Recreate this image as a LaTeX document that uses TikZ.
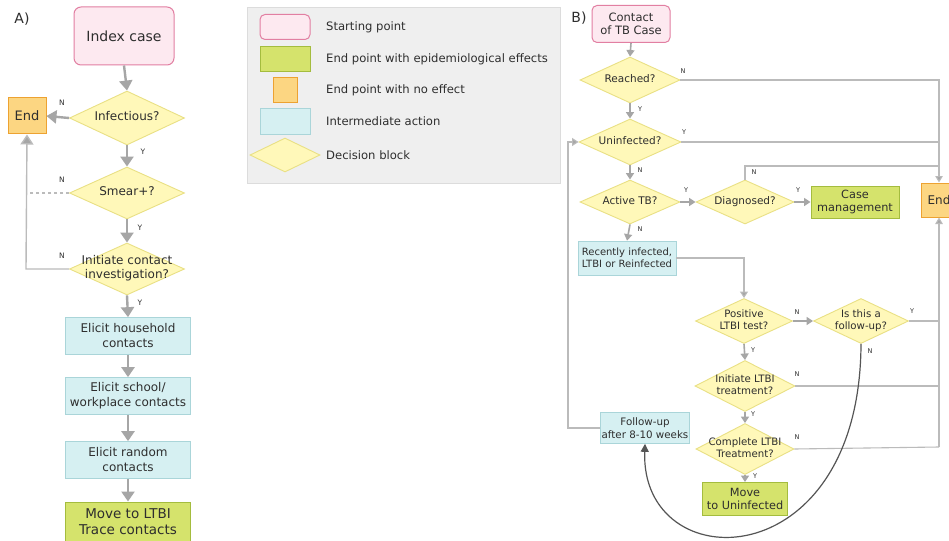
\documentclass[tikz,border=0pt]{standalone}
\usepackage{fontspec}
\setmainfont{DejaVu Sans}
\usetikzlibrary{shapes.geometric,arrows.meta,calc}
\definecolor{txt}{HTML}{2E2E2E}
\definecolor{pinkf}{HTML}{FDE9F0}
\definecolor{pinkb}{HTML}{E27FA2}
\definecolor{greenf}{HTML}{D5E36C}
\definecolor{greenb}{HTML}{A4BC3E}
\definecolor{oraf}{HTML}{FCD682}
\definecolor{orab}{HTML}{EDA231}
\definecolor{bluef}{HTML}{D6F0F2}
\definecolor{blueb}{HTML}{AAD5D9}
\definecolor{decf}{HTML}{FFF8B9}
\definecolor{decb}{HTML}{E9E084}
\definecolor{arrc}{HTML}{A6A6A6}
\definecolor{lnc}{HTML}{BBBBBB}
\definecolor{curvec}{HTML}{555555}
\definecolor{legf}{HTML}{EFEFEF}
\definecolor{legb}{HTML}{DCDCDC}
\newcommand{\dtext}[1]{\makebox[0pt]{\begin{tabular}{@{}c@{}}#1\end{tabular}}}
\newcommand{\fs}[2]{\fontsize{#1}{#2}\selectfont}
\tikzset{
  base/.style={text=txt, align=center, inner sep=1pt},
  startbox/.style={base, rectangle, rounded corners=7pt, draw=pinkb, fill=pinkf, line width=1pt},
  greenbox/.style={base, rectangle, draw=greenb, fill=greenf, line width=1pt},
  endbox/.style={base, rectangle, draw=orab, fill=oraf, line width=1pt},
  actbox/.style={base, rectangle, draw=blueb, fill=bluef, line width=0.7pt},
  dec/.style={base, diamond, draw=decb, fill=decf, line width=0.9pt, inner sep=0pt},
  arrA/.style={draw=arrc, line width=2.4pt, -{Triangle[length=10pt,width=13pt]}},
  lnA/.style={draw=lnc, line width=1.4pt},
  arrB/.style={draw=arrc, line width=1.6pt, -{Triangle[length=6.5pt,width=8pt]}},
  lnB/.style={draw=lnc, line width=1.1pt},
  lnBarr/.style={draw=lnc, line width=1.1pt, -{Triangle[length=6.5pt,width=7.5pt,fill=arrc]}},
  labA/.style={text=txt, font=\fs{7.5}{8}, inner sep=0pt},
  labB/.style={text=txt, font=\fs{6.5}{7}, inner sep=0pt},
  legtext/.style={text=txt, font=\fs{11.6}{13}, anchor=west, inner sep=0pt}
}
\begin{document}
\begin{tikzpicture}[x=1pt,y=-1pt]
\useasboundingbox (0,0) rectangle (949,540);
\fill[white] (0,0) rectangle (949,540);

% ---------------- Panel A ----------------
\node[text=txt, font=\fs{14}{16}] (labelA) at (22,19) {A)};
\node[startbox, minimum width=100pt, minimum height=58pt, font=\fs{14}{16}] (idx) at (124,36) {Index case};
\node[dec, minimum width=115pt, minimum height=54pt, font=\fs{12}{14}] (inf) at (127,118) {\dtext{Infectious?}};
\node[endbox, minimum width=38pt, minimum height=36pt, font=\fs{13}{15}] (endA) at (27,116) {End};
\node[dec, minimum width=115pt, minimum height=52pt, font=\fs{12}{14}] (smear) at (127,193) {\dtext{Smear+?}};
\node[dec, minimum width=115pt, minimum height=52pt, font=\fs{12}{14}] (init) at (127,269) {\dtext{Initiate contact\\investigation?}};
\node[actbox, minimum width=125pt, minimum height=37pt, font=\fs{12}{15}] (house) at (128,336) {Elicit household\\contacts};
\node[actbox, minimum width=125pt, minimum height=37pt, font=\fs{12}{15}] (school) at (128,396) {Elicit school/\\workplace contacts};
\node[actbox, minimum width=125pt, minimum height=37pt, font=\fs{12}{15}] (random) at (128,460) {Elicit random\\contacts};
\node[greenbox, minimum width=125pt, minimum height=40pt, font=\fs{13.5}{16}] (ltbi) at (128,522) {Move to LTBI\\Trace contacts};

\coordinate (cA) at (26,269);
\coordinate (dA) at (26,193);
\draw[arrA] (idx.south) -- (inf.north);
\draw[arrA] (inf.west) -- (endA.east);
\draw[arrA] (inf.south) -- (smear.north);
\draw[arrA] (smear.south) -- (init.north);
\draw[lnA, dashed] (smear.west) -- (dA);
\draw[lnA, -{Triangle[length=10pt,width=13pt,fill=arrc]}] (init.west) -- (cA) -- (endA.south);
\draw[arrA] (init.south) -- (house.north);
\draw[arrA] (house.south) -- (school.north);
\draw[arrA] (school.south) -- (random.north);
\draw[arrA] (random.south) -- (ltbi.north);
\node[labA] (nA1) at (62,103) {N};
\node[labA] (yA1) at (143,152) {Y};
\node[labA] (nA2) at (62,180) {N};
\node[labA] (yA2) at (140,228) {Y};
\node[labA] (nA3) at (62,256) {N};
\node[labA] (yA3) at (140,303) {Y};

% ---------------- Legend ----------------
\node[draw=legb, fill=legf, line width=0.8pt, minimum width=313pt, minimum height=176pt, inner sep=0pt] (legend) at (403.5,95) {};
\node[startbox, minimum width=50pt, minimum height=25pt, rounded corners=5pt] (lg1) at (285,27) {};
\node[greenbox, minimum width=50pt, minimum height=25pt] (lg2) at (285,59) {};
\node[endbox, minimum width=24pt, minimum height=25pt] (lg3) at (285,90) {};
\node[actbox, minimum width=50pt, minimum height=26pt] (lg4) at (285,121) {};
\node[dec, minimum width=70pt, minimum height=34pt] (lg5) at (285,155) {};
\node[legtext] (lt1) at (326,27) {Starting point};
\node[legtext] (lt2) at (326,59) {End point with epidemiological effects};
\node[legtext] (lt3) at (326,90) {End point with no effect};
\node[legtext] (lt4) at (326,121) {Intermediate action};
\node[legtext] (lt5) at (326,155) {Decision block};

% ---------------- Panel B ----------------
\node[text=txt, font=\fs{14}{16}] (labelB) at (579,18) {B)};
\node[startbox, minimum width=78pt, minimum height=37pt, font=\fs{11.5}{13}, rounded corners=5pt] (contact) at (631,24) {Contact\\of TB Case};
\node[dec, minimum width=100pt, minimum height=46pt, font=\fs{10.5}{12}] (reached) at (630,80) {\dtext{Reached?}};
\node[dec, minimum width=102pt, minimum height=46pt, font=\fs{10.5}{12}] (unin) at (630,142) {\dtext{Uninfected?}};
\node[dec, minimum width=100pt, minimum height=44pt, font=\fs{10.5}{12}] (active) at (630,202) {\dtext{Active TB?}};
\node[dec, minimum width=98pt, minimum height=44pt, font=\fs{10.5}{12}] (diag) at (745,202) {\dtext{Diagnosed?}};
\node[greenbox, minimum width=88pt, minimum height=32pt, font=\fs{11.3}{13}] (casem) at (855,202) {Case\\management};
\node[endbox, minimum width=36pt, minimum height=34pt, font=\fs{12}{14}] (endB) at (939,200) {End};
\node[actbox, minimum width=98pt, minimum height=34pt, font=\fs{10}{12.5}] (recent) at (627,258) {Recently infected,\\LTBI or Reinfected};
\node[dec, minimum width=97pt, minimum height=45pt, font=\fs{10.2}{12.5}] (pos) at (744,321) {\dtext{Positive\\LTBI test?}};
\node[dec, minimum width=95pt, minimum height=45pt, font=\fs{10.2}{12.5}] (follow) at (861,321) {\dtext{Is this a\\follow-up?}};
\node[dec, minimum width=100pt, minimum height=51pt, font=\fs{10.2}{12.5}] (initB) at (745,386) {\dtext{Initiate LTBI\\treatment?}};
\node[dec, minimum width=98pt, minimum height=51pt, font=\fs{10.2}{12.5}] (compl) at (745,449) {\dtext{Complete LTBI\\Treatment?}};
\node[greenbox, minimum width=85pt, minimum height=33pt, font=\fs{11.3}{13}] (move) at (745,499) {Move\\to Uninfected};
\node[actbox, minimum width=89pt, minimum height=31pt, font=\fs{10.3}{12.5}] (fup) at (645,428) {Follow-up\\after 8-10 weeks};

\coordinate (j1) at (939,166);
\coordinate (j2) at (939,447);
\coordinate (j3) at (568,428);
\draw[arrB] (contact.south) -- (reached.north);
\draw[lnBarr] (reached.east) -| (endB.north);
\draw[lnB] (unin.east) -- (unin.east -| endB.north);
\draw[lnB] (diag.north) |- (j1);
\draw[arrB] (reached.south) -- (unin.north);
\draw[arrB] (unin.south) -- (active.north);
\draw[arrB] (active.east) -- (diag.west);
\draw[arrB] (diag.east) -- (casem.west);
\draw[arrB] (active.south) -- (recent.north);
\draw[lnB, -{Triangle[length=6.5pt,width=8pt,fill=arrc]}] (recent.east) -| (pos.north);
\draw[arrB] (pos.east) -- (follow.west);
\draw[lnB] (follow.east) -- (follow.east -| j2);
\draw[arrB] (pos.south) -- (initB.north);
\draw[lnB] (initB.east) -- (initB.east -| j2);
\draw[arrB] (initB.south) -- (compl.north);
\draw[lnB] (compl.east) -- (j2);
\draw[lnBarr] (j2) -- (endB.south);
\draw[arrB] (compl.south) -- (move.north);
\draw[lnB, -{Triangle[length=6.5pt,width=8pt,fill=arrc]}] (fup.west) -- (j3) |- (unin.west);
\draw[draw=curvec, line width=1.2pt, -{Triangle[length=8pt,width=8pt]}] (follow.south) .. controls (860,580) and (640,580) .. (fup.south);

\node[labB] (nB1) at (683,71) {N};
\node[labB] (yB1) at (640,109) {Y};
\node[labB] (yB2) at (684,132) {Y};
\node[labB] (nB2) at (640,170) {N};
\node[labB] (nB3) at (754,172) {N};
\node[labB] (yB3) at (686,190) {Y};
\node[labB] (yB4) at (798,190) {Y};
\node[labB] (nB4) at (640,229) {N};
\node[labB] (nB5) at (797,312) {N};
\node[labB] (yB5) at (912,311) {Y};
\node[labB] (nB6) at (870,351) {N};
\node[labB] (yB6) at (753,350) {Y};
\node[labB] (nB7) at (797,374) {N};
\node[labB] (yB7) at (753,414) {Y};
\node[labB] (nB8) at (797,437) {N};
\node[labB] (yB8) at (755,476) {Y};
\end{tikzpicture}
\end{document}
